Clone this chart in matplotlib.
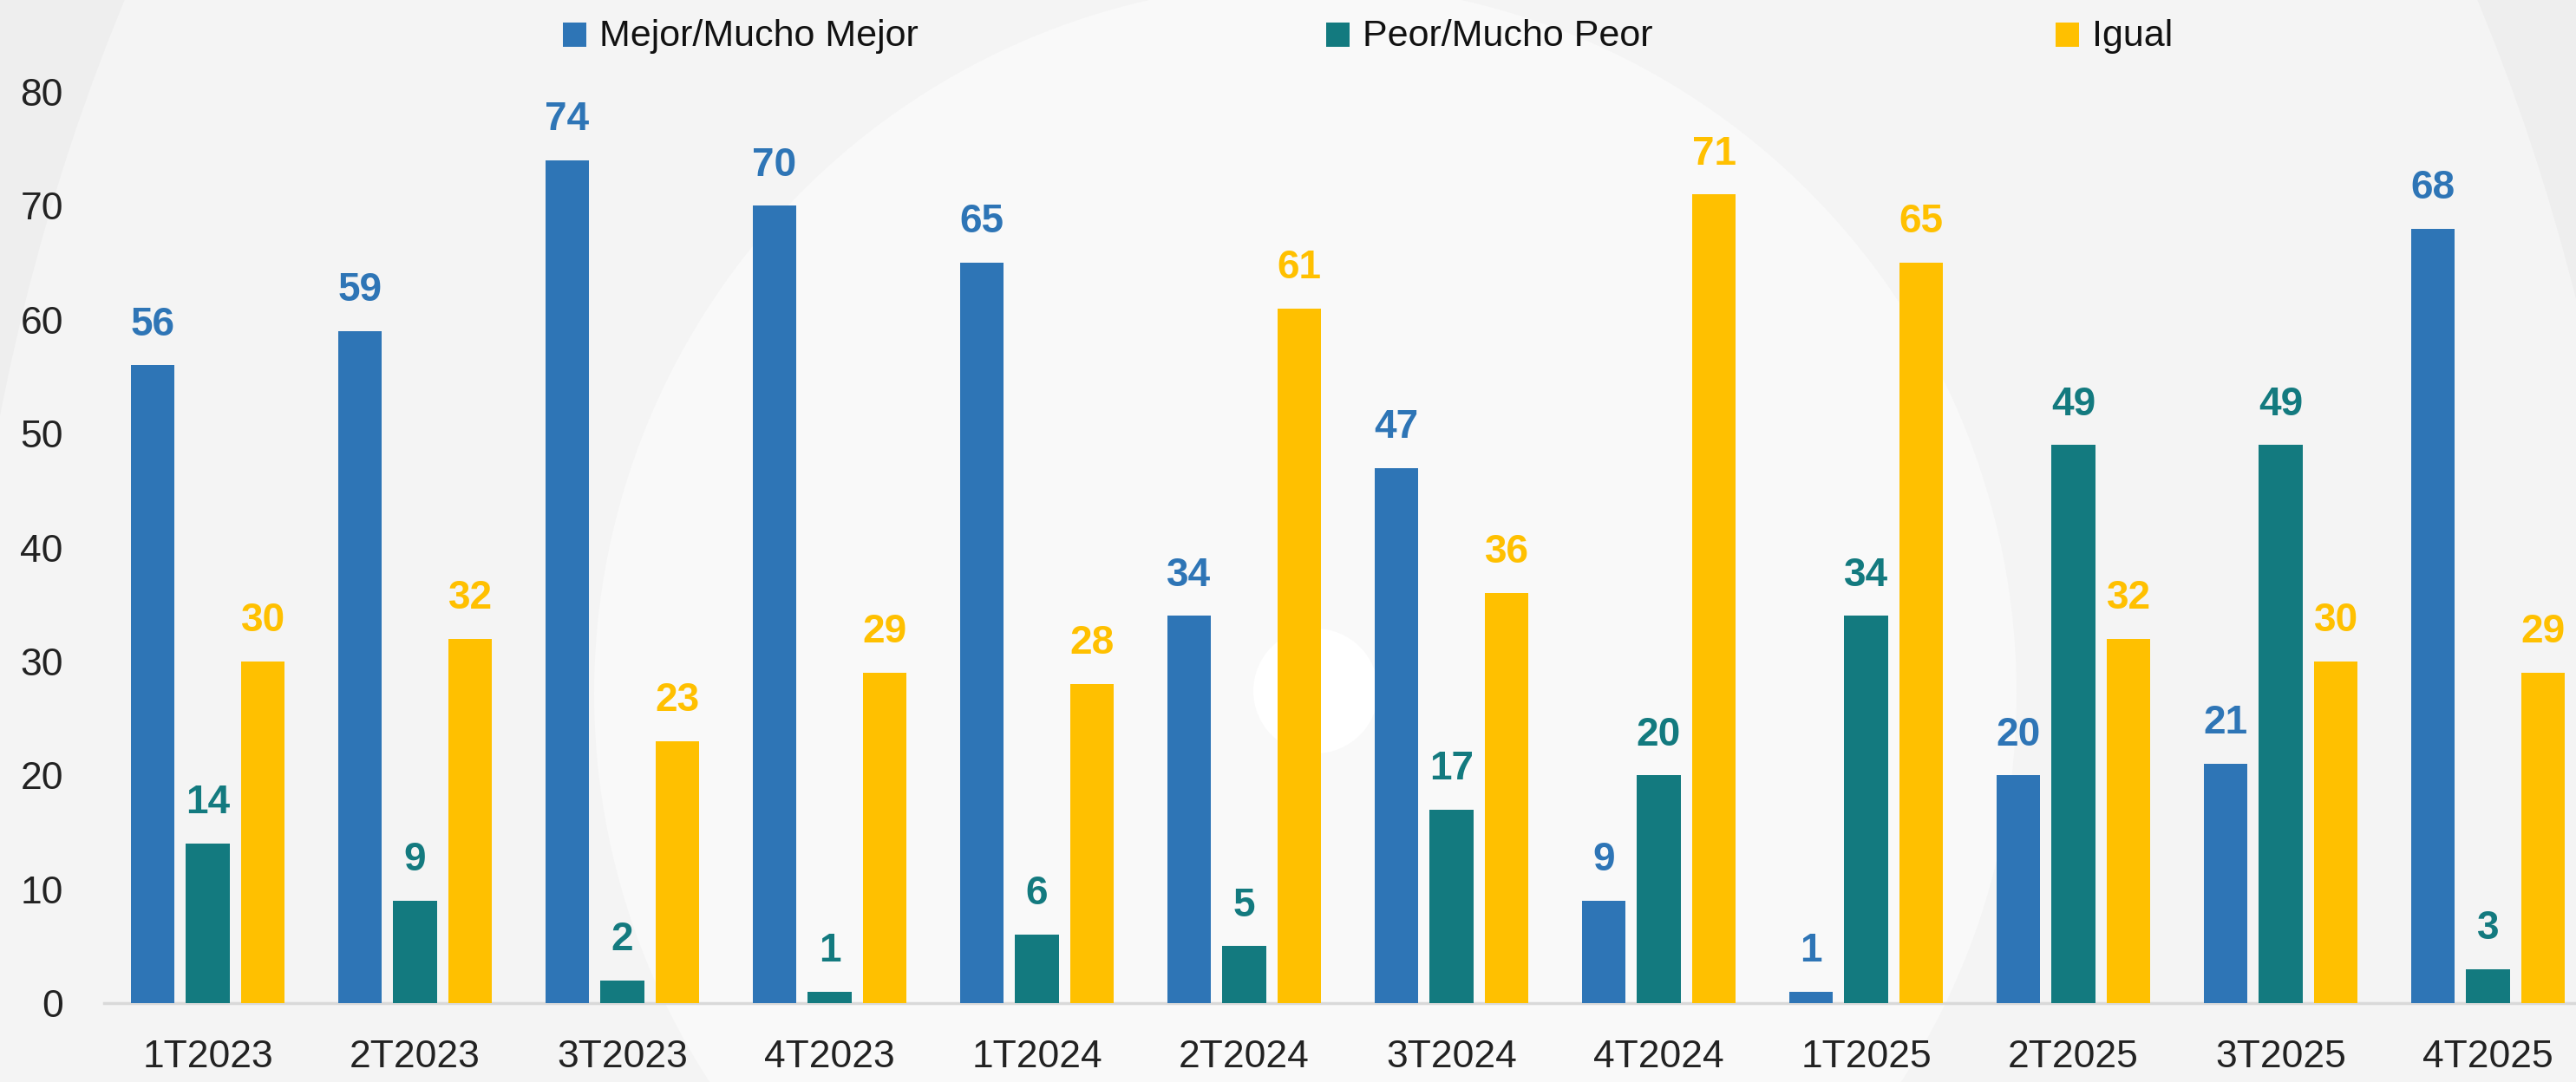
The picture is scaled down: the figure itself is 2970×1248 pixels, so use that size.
import matplotlib
matplotlib.use("Agg")
import matplotlib.pyplot as plt
from matplotlib.patches import Circle, Ellipse, Rectangle
import numpy as np

categories = ["1T2023", "2T2023", "3T2023", "4T2023", "1T2024", "2T2024",
              "3T2024", "4T2024", "1T2025", "2T2025", "3T2025", "4T2025"]
mejor = [56, 59, 74, 70, 65, 34, 47, 9, 1, 20, 21, 68]
peor = [14, 9, 2, 1, 6, 5, 17, 20, 34, 49, 49, 3]
igual = [30, 32, 23, 29, 28, 61, 36, 71, 65, 32, 30, 29]
series_names = ["Mejor/Mucho Mejor", "Peor/Mucho Peor", "Igual"]
colors = ["#2E75B6", "#137A7F", "#FFC000"]
yticks = [0, 10, 20, 30, 40, 50, 60, 70, 80]

W, H = 2970, 1248
DPI = 100
plt.rcParams['font.family'] = ['Liberation Sans', 'DejaVu Sans']

fig = plt.figure(figsize=(W / DPI, H / DPI), dpi=DPI)
fig.patch.set_facecolor("#eeeeee")

# background decoration
bg = fig.add_axes([0, 0, 1, 1], zorder=-10)
bg.set_xlim(0, W)
bg.set_ylim(H, 0)
bg.axis("off")
bg.add_patch(Ellipse((1500, 1000), 2 * 1550, 2 * 2066, color="#f4f4f4", lw=0))
bg.add_patch(Circle((1505, 800), 820, color="#f9f9f9", lw=0))
bg.add_patch(Circle((1517, 797), 72, color="#ffffff", lw=0))

# main axes
left_px, right_px = 120, 120 + 12 * 239
top_px, bottom_px = 106, 1157
ax = fig.add_axes([left_px / W, (H - bottom_px) / H,
                   (right_px - left_px) / W, (bottom_px - top_px) / H])
ax.patch.set_alpha(0)
ax.set_xlim(-0.5, len(categories) - 0.5)
ax.set_ylim(0, 80)

x = np.arange(len(categories))
offset = 0.267
width = 0.21
data = [mejor, peor, igual]
for i, (vals, c) in enumerate(zip(data, colors)):
    xs = x + (i - 1) * offset
    ax.bar(xs, vals, width=width, color=c, zorder=3)
    for xi, v in zip(xs, vals):
        ax.annotate(str(v), (xi, v), xytext=(0, 25), textcoords="offset points",
                    ha="center", va="baseline", fontsize=33, fontweight="bold",
                    color=c, annotation_clip=False)

for s in ["top", "right", "left"]:
    ax.spines[s].set_visible(False)
ax.spines["bottom"].set_color("#d9d9d9")
ax.spines["bottom"].set_linewidth(2.5)
ax.spines["bottom"].set_zorder(2)

ax.set_xticks(x)
ax.set_xticklabels(categories)
ax.set_yticks(yticks)
ax.tick_params(axis="x", length=0, pad=30, labelsize=32, labelcolor="#222222")
ax.tick_params(axis="y", length=0, pad=34, labelsize=32, labelcolor="#222222")

# legend (manual placement)
leg_sq = [649, 1529, 2370]
for name, c, sx in zip(series_names, colors, leg_sq):
    fig.add_artist(Rectangle((sx / W, (H - 54) / H), 27 / W, 28 / H,
                             transform=fig.transFigure, color=c, lw=0))
    fig.text((sx + 42) / W, (H - 53) / H, name, fontsize=31, color="#111111",
             ha="left", va="baseline")

fig.savefig("out.png", dpi=DPI, facecolor=fig.get_facecolor())
